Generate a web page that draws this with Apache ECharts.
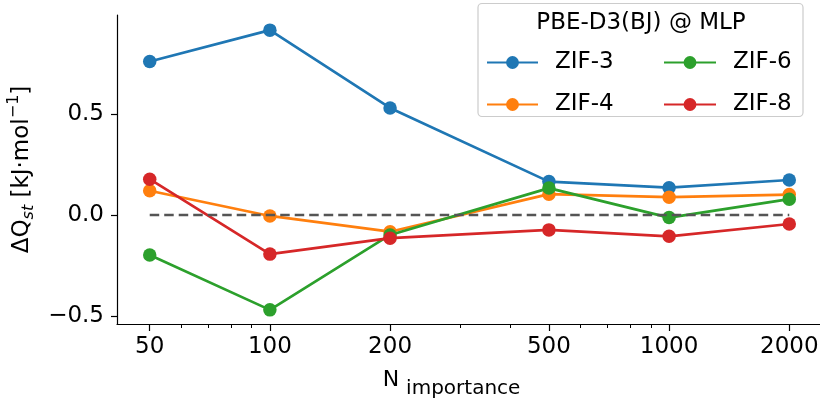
<!DOCTYPE html>
<html>
<head>
<meta charset="utf-8">
<script src="https://cdn.jsdelivr.net/npm/echarts@6/dist/echarts.min.js"></script>
<style>html,body{margin:0;padding:0;background:#fff}#c{width:820px;height:399px}</style>
</head>
<body>
<div id="c"></div>
<script>
const xValues = [50, 100, 200, 500, 1000, 2000];
const zif3 = [0.760, 0.915, 0.530, 0.165, 0.135, 0.173];
const zif4 = [0.120, -0.005, -0.083, 0.103, 0.088, 0.101];
const zif6 = [-0.198, -0.470, -0.099, 0.133, -0.013, 0.078];
const zif8 = [0.177, -0.194, -0.115, -0.074, -0.106, -0.045];
const seriesNames = ['ZIF-3', 'ZIF-4', 'ZIF-6', 'ZIF-8'];
const xMajorTicks = [50, 100, 200, 500, 1000, 2000];
const xMinorTicks = [60, 70, 80, 90, 300, 400, 600, 700, 800, 900];
const yTicks = [-0.5, 0.0, 0.5];
const referenceLevel = 0;
const legendTitle = 'PBE-D3(BJ) @ MLP';

const colors = ['#1f77b4', '#ff7f0e', '#2ca02c', '#d62728'];
const FONT = 'DejaVu Sans';
const values = [zif3, zif4, zif6, zif8];

const chart = echarts.init(document.getElementById('c'), null, {renderer: 'canvas'});

const series = seriesNames.map((name, i) => ({
  name: name,
  type: 'line',
  xAxisIndex: 0,
  data: xValues.map((x, j) => [x, values[i][j]]),
  symbol: 'circle',
  symbolSize: 13.5,
  showSymbol: true,
  lineStyle: {width: 2.7, color: colors[i]},
  itemStyle: {color: colors[i]},
  z: 2 + i,
  animation: false,
  emphasis: {disabled: true}
}));
series.push({
  name: 'ref',
  type: 'line',
  xAxisIndex: 0,
  data: [[xValues[0], referenceLevel], [xValues[xValues.length - 1], referenceLevel]],
  symbol: 'none',
  lineStyle: {width: 2.6, color: '#555555', type: [9.5, 5]},
  z: 10,
  animation: false,
  silent: true
});

const xMin = 41.4, xMax = 2388;
const axisCommon = {
  type: 'log',
  logBase: 10,
  min: xMin,
  max: xMax,
  gridIndex: 0,
  position: 'bottom'
};

chart.setOption({
  animation: false,
  textStyle: {fontFamily: FONT},
  grid: {left: 117, top: 15, right: 0, bottom: 75, containLabel: false, outerBoundsMode: 'none'},
  xAxis: [
    Object.assign({}, axisCommon, {
      name: '{n|N}{s|importance}',
      nameLocation: 'middle',
      nameGap: 45,
      nameTextStyle: {
        padding: [0, 34, 0, 0],
        rich: {
          n: {fontSize: 22, fontFamily: FONT, color: '#000', verticalAlign: 'top', padding: [0, 0, 0, 0]},
          s: {fontSize: 20, fontFamily: FONT, color: '#000', verticalAlign: 'top', padding: [10, 0, 0, 7]}
        }
      },
      axisLine: {show: true, onZero: false, lineStyle: {color: '#000', width: 1.2}},
      axisTick: {show: true, length: 7, lineStyle: {color: '#000', width: 1.2}, customValues: xMajorTicks},
      axisLabel: {show: true, fontSize: 23, color: '#000', fontFamily: FONT, margin: 12, customValues: xMajorTicks,
                  formatter: v => String(Math.round(v))},
      splitLine: {show: false},
      minorTick: {show: false}
    }),
    Object.assign({}, axisCommon, {
      axisLine: {show: false, onZero: false},
      axisTick: {show: true, length: 4, lineStyle: {color: '#000', width: 1}, customValues: xMinorTicks},
      axisLabel: {show: false},
      splitLine: {show: false}
    })
  ],
  yAxis: {
    type: 'value',
    min: -0.54,
    max: 0.99,
    name: '{m|ΔQ}{s|st}{m| [kJ·mol}{p|−1}{m|]}',
    nameLocation: 'middle',
    nameRotate: 90,
    nameGap: 57,
    nameTextStyle: {
      rich: {
        m: {fontSize: 23, fontFamily: FONT, color: '#000', verticalAlign: 'top', padding: [4, 0, 0, 0]},
        s: {fontSize: 16, fontFamily: FONT, fontStyle: 'italic', color: '#000', verticalAlign: 'top', padding: [15, 0, 0, 0]},
        p: {fontSize: 16, fontFamily: FONT, color: '#000', verticalAlign: 'top', padding: [0, 0, 0, 0]}
      }
    },
    axisLine: {show: true, lineStyle: {color: '#000', width: 1.2}},
    axisTick: {show: true, length: 6, lineStyle: {color: '#000', width: 1.2}, customValues: yTicks},
    axisLabel: {fontSize: 23, color: '#000', fontFamily: FONT, margin: 13, customValues: yTicks,
                formatter: v => v.toFixed(1).replace('-', '\u2212')},
    splitLine: {show: false}
  },
  legend: [
    {
      data: [seriesNames[0], seriesNames[1]],
      orient: 'vertical',
      left: 486, top: 51, z: 60,
      itemWidth: 51, itemHeight: 16, itemGap: 19,
      padding: 0,
      textStyle: {fontSize: 23, fontFamily: FONT, color: '#000', lineHeight: 16, padding: [0, 0, 0, 12]},
      selectedMode: false
    },
    {
      data: [seriesNames[2], seriesNames[3]],
      orient: 'vertical',
      left: 663, top: 51, z: 60,
      itemWidth: 52, itemHeight: 16, itemGap: 19,
      padding: 0,
      textStyle: {fontSize: 23, fontFamily: FONT, color: '#000', lineHeight: 16, padding: [0, 0, 0, 12]},
      selectedMode: false
    }
  ],
  graphic: [
    {
      type: 'rect', z: 50,
      shape: {x: 478, y: 3.5, width: 325, height: 113, r: 4},
      style: {fill: 'rgba(255,255,255,0.8)', stroke: '#cccccc', lineWidth: 1.2},
      silent: true
    },
    {
      type: 'text', z: 51,
      x: 641, y: 23,
      style: {text: legendTitle, font: '23px "DejaVu Sans"', fill: '#000', textAlign: 'center', textVerticalAlign: 'middle'},
      silent: true
    }
  ],
  series: series
});
</script>
</body>
</html>
